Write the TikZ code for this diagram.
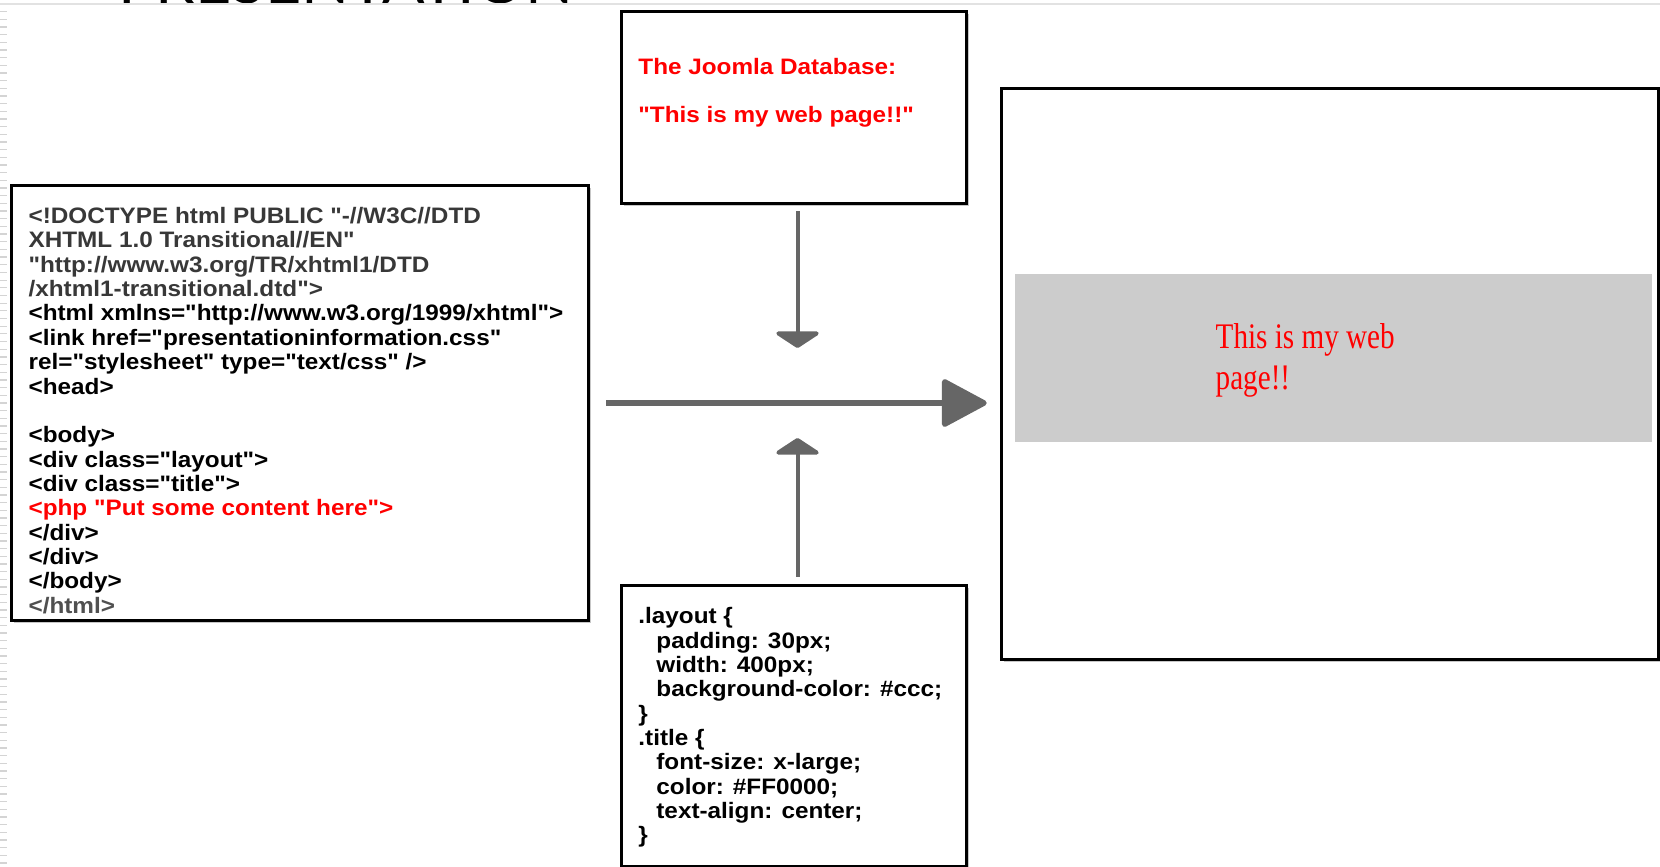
\documentclass[tikz,border=0pt]{standalone}
\usepackage{fontspec}
\usepackage{graphicx}
\setmainfont{Liberation Sans}[Ligatures=TeXOff]
\newfontfamily\serifpage{Liberation Serif}[Ligatures=TeXOff]
\newfontfamily\titlefont{Lato}
\usetikzlibrary{arrows.meta}
\definecolor{arrowgray}{HTML}{666666}
\definecolor{pagegray}{HTML}{CCCCCC}
\definecolor{codegray}{HTML}{383838}
\definecolor{endgray}{HTML}{505050}
\definecolor{rulegray}{HTML}{E2E2E2}
\definecolor{tickgray}{HTML}{D4D4D4}
\definecolor{webred}{HTML}{FF0000}
\newcommand{\codeblock}[1]{\scalebox{1}[0.92]{\fontsize{24.3}{26.47}\selectfont\begin{tabular}{@{}l@{}}#1\end{tabular}}}
\begin{document}
\begin{tikzpicture}[x=1pt,y=-1pt,
  box/.style={draw=black, line width=3pt, fill=white, inner sep=0pt, outer sep=0pt, anchor=north west,
    preaction={fill=black, opacity=0.22, transform canvas={xshift=2.5pt,yshift=-2.5pt}}},
  code/.style={anchor=north west, inner sep=0pt, outer sep=0pt, font=\bfseries},
  harrow/.style={draw=arrowgray, line width=5.5pt, -{Triangle[width=50pt,length=48pt,round]}},
  varrow/.style={draw=arrowgray, line width=4pt, -{Triangle[width=51pt,length=17pt,round]}},
  tick/.style={draw=tickgray, line width=1.3pt}
]
\useasboundingbox (0,0) rectangle (1660,867);
\clip (0,0) rectangle (1660,867);
\fill[white] (0,0) rectangle (1660,867);
% left margin ticks
\foreach \k in {0,...,111}{
  \pgfmathsetmacro{\ty}{11.7+7.67*\k}
  \draw[tick] (0,\ty) -- (7,\ty);
}
% cut-off title and top rule
\node[anchor=base west, inner sep=0pt] (ptitle) at (118,3.3) {\resizebox{455pt}{!}{\titlefont PRESENTATION}};
\draw[rulegray, line width=2pt] (0,4.5) -- (1660,4.5);
% boxes
\node[box, minimum width=577pt, minimum height=435pt] (html) at (11,185.5) {};
\node[box, minimum width=345pt, minimum height=191.5pt] (db) at (621.5,11.5) {};
\node[box, minimum width=345pt, minimum height=280.5pt] (css) at (621.5,585.5) {};
\node[box, minimum width=657pt, minimum height=571pt] (page) at (1001.5,88) {};
\node[anchor=north west, fill=pagegray, inner sep=0pt, minimum width=636.5pt, minimum height=167.5pt] (layout) at (1015,274) {};
% texts
\node[code] (htmltext) at (28.6,206.5) {\codeblock{%
\color{codegray}<!DOCTYPE html PUBLIC "-//W3C//DTD\\
\color{codegray}XHTML 1.0 Transitional//EN"\\
\color{codegray}"http://www.w3.org/TR/xhtml1/DTD\\
\color{codegray}/xhtml1-transitional.dtd">\\
<html xmlns="http://www.w3.org/1999/xhtml">\\
<link href="presentationinformation.css"\\
rel="stylesheet" type="text/css" />\\
<head>\\
\mbox{}\\
<body>\\
<div class="layout">\\
<div class="title">\\
\color{webred}<php "Put some content here">\\
</div>\\
</div>\\
</body>\\
\color{endgray}</html>}};
\node[code, text=webred] (dbtext) at (638.4,57.2) {\codeblock{%
The Joomla Database:\\
\mbox{}\\
"This is my web page!!"}};
\node[code] (csstext) at (638.4,606.6) {\codeblock{%
.layout \{\\
\hspace*{18pt}padding: 30px;\\
\hspace*{18pt}width: 400px;\\
\hspace*{18pt}background-color: \#ccc;\\
\}\\
.title \{\\
\hspace*{18pt}font-size: x-large;\\
\hspace*{18pt}color: \#FF0000;\\
\hspace*{18pt}text-align: center;\\
\}}};
\node[anchor=north west, inner sep=0pt, text=webred] (pagetext) at (1215.5,320) {\scalebox{0.81}[1]{\serifpage\fontsize{36}{41}\selectfont\begin{tabular}{@{}l@{}}This is my web\\page!!\end{tabular}}};
% connectors
\draw[harrow, shorten <=18pt, shorten >=14.8pt] (html.east) -- (html.east -| page.west);
\coordinate (dtip) at (797.5,348);
\coordinate (utip) at (797.5,438);
\draw[varrow, shorten <=8pt] (dtip |- db.south) -- (dtip);
\draw[varrow, shorten <=9pt] (utip |- css.north) -- (utip);
\end{tikzpicture}
\end{document}
